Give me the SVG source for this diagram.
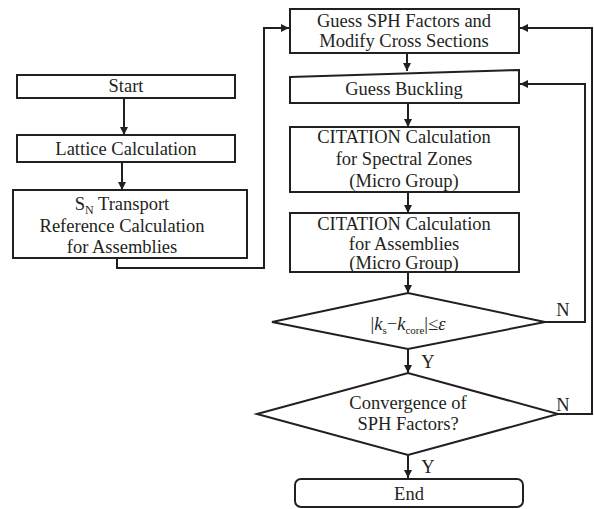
<svg xmlns="http://www.w3.org/2000/svg" width="594" height="509" viewBox="0 0 594 509">
<defs>
<marker id="ah2" viewBox="0 0 10 10" refX="10" refY="5" markerWidth="9" markerHeight="8" markerUnits="userSpaceOnUse" orient="auto"><path d="M0,0 L10,5 L0,10 z" fill="#231f20"/></marker>
</defs>
<style>
.b{fill:#fff;stroke:#231f20;stroke-width:2}
.t{font-family:"Liberation Serif","Times New Roman",serif;font-size:18.5px;fill:#231f20;text-anchor:middle}
.c{fill:none;stroke:#231f20;stroke-width:2}
</style>
<rect width="594" height="509" fill="#fff"/>
<g id="connectors">
<path class="c" d="M124,98 V135" marker-end="url(#ah2)"/>
<path class="c" d="M122,162 V190" marker-end="url(#ah2)"/>
<path class="c" d="M117,258 V268 H264 V28 H289" marker-end="url(#ah2)"/>
<path class="c" d="M407,53 V71" marker-end="url(#ah2)"/>
<path class="c" d="M408,103 V127" marker-end="url(#ah2)"/>
<path class="c" d="M408,192 V213" marker-end="url(#ah2)"/>
<path class="c" d="M408,272 V293" marker-end="url(#ah2)"/>
<path class="c" d="M545,322 H585 V84 H520" marker-end="url(#ah2)"/>
<path class="c" d="M408,349 V373" marker-end="url(#ah2)"/>
<path class="c" d="M558,414 H592 V28 H520" marker-end="url(#ah2)"/>
<path class="c" d="M408,455 V478" marker-end="url(#ah2)"/>
<text class="t" x="428" y="368">Y</text>
<text class="t" x="428" y="473">Y</text>
<text class="t" x="563" y="316">N</text>
<text class="t" x="563" y="411">N</text>
</g>
<g id="start">
<rect class="b" x="17" y="75" width="218" height="23"/>
<text class="t" x="126" y="92">Start</text>
</g>
<g id="lattice">
<rect class="b" x="17" y="135" width="218" height="27"/>
<text class="t" x="126" y="155">Lattice Calculation</text>
</g>
<g id="sn">
<rect class="b" x="13" y="190" width="234" height="68"/>
<text class="t" x="122" y="210">S<tspan font-size="12" dy="4">N</tspan><tspan dy="-4"> Transport</tspan></text>
<text class="t" x="122" y="232">Reference Calculation</text>
<text class="t" x="122" y="253">for Assemblies</text>
</g>
<g id="guess-sph">
<rect class="b" x="290" y="9" width="229" height="44"/>
<text class="t" x="404" y="27">Guess SPH Factors and</text>
<text class="t" x="404" y="47">Modify Cross Sections</text>
</g>
<g id="guess-buckling">
<path class="b" d="M290,77 L519,70 V103 H290 Z"/>
<text class="t" x="404" y="95">Guess Buckling</text>
</g>
<g id="citation-zones">
<rect class="b" x="290" y="127" width="229" height="65"/>
<text class="t" x="404" y="143">CITATION Calculation</text>
<text class="t" x="404" y="165">for Spectral Zones</text>
<text class="t" x="404" y="187">(Micro Group)</text>
</g>
<g id="citation-assemblies">
<rect class="b" x="290" y="213" width="229" height="59"/>
<text class="t" x="404" y="230">CITATION Calculation</text>
<text class="t" x="404" y="250">for Assemblies</text>
<text class="t" x="404" y="269">(Micro Group)</text>
</g>
<g id="decision-k">
<path class="b" d="M272,322 L408,293 L545,322 L408,349 Z"/>
<text class="t" x="408" y="330">|<tspan font-style="italic">k</tspan><tspan font-size="11" dy="4">s</tspan><tspan dy="-4">−</tspan><tspan font-style="italic">k</tspan><tspan font-size="11" dy="4">core</tspan><tspan dy="-4">|≤</tspan><tspan font-style="italic">ε</tspan></text>
</g>
<g id="decision-sph">
<path class="b" d="M257,414 L408,373 L558,414 L408,455 Z"/>
<text class="t" x="408" y="409">Convergence of</text>
<text class="t" x="408" y="430">SPH Factors?</text>
</g>
<g id="end">
<rect class="b" x="295" y="479" width="228" height="28" rx="6"/>
<text class="t" x="409" y="500">End</text>
</g>
</svg>
